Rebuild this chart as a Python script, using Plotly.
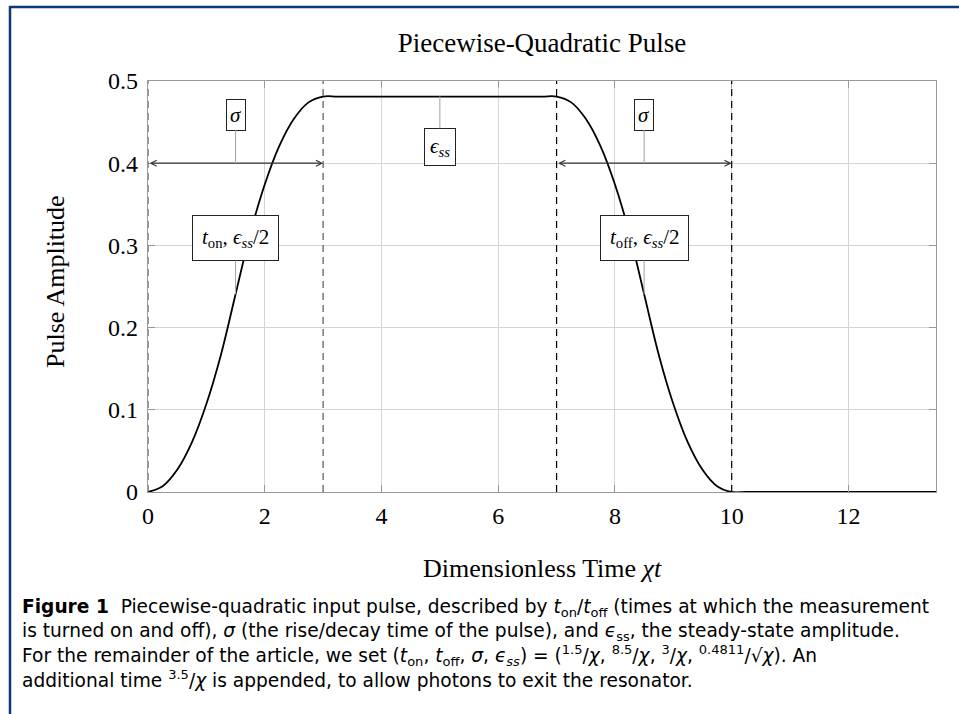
import plotly.graph_objects as go

# pulse amplitude, time in units of 1/chi
time = [0, 0.25, 0.5, 0.75, 1.0, 1.25, 1.5, 1.75, 2.0, 2.25, 2.5, 2.75, 3.0,
        3.25, 4.0, 5.0, 6.0, 6.75, 7.0,
        7.25, 7.5, 7.75, 8.0, 8.25, 8.5, 8.75, 9.0, 9.25, 9.5, 9.75, 10.0,
        10.25, 11.0, 12.0, 13.5]
amplitude = [0, 0.007, 0.027, 0.060, 0.107, 0.167, 0.2405, 0.314, 0.374, 0.421, 0.454, 0.474, 0.4811,
             0.4811, 0.4811, 0.4811, 0.4811, 0.4811, 0.4811,
             0.474, 0.454, 0.421, 0.374, 0.314, 0.2405, 0.167, 0.107, 0.060, 0.027, 0.007, 0,
             0, 0, 0, 0]

t_on, t_off, sigma, eps_ss = 1.5, 8.5, 3.0, 0.4811
edges = [t_on - sigma / 2, t_on + sigma / 2, t_off - sigma / 2, t_off + sigma / 2]
edge_colors = ["#555555", "#555555", "black", "black"]
arrow_level = 0.4

x_ticks = [0, 2, 4, 6, 8, 10, 12]
y_ticks = [0, 0.1, 0.2, 0.3, 0.4, 0.5]
y_tick_text = ["0", "0.1", "0.2", "0.3", "0.4", "0.5"]

caption = [
    "<b>Figure 1</b>  Piecewise-quadratic input pulse, described by <i>t</i><sub>on</sub>/<i>t</i><sub>off</sub>"
    " (times at which the measurement",
    "is turned on and off), <i>σ</i> (the rise/decay time of the pulse), and <i>ϵ</i><sub>ss</sub>,"
    " the steady-state amplitude.",
    "For the remainder of the article, we set (<i>t</i><sub>on</sub>, <i>t</i><sub>off</sub>, <i>σ</i>,"
    " <i>ϵ<sub>ss</sub></i>) = (<sup>1.5</sup>/<i>χ</i>, <sup>8.5</sup>/<i>χ</i>, <sup>3</sup>/<i>χ</i>,"
    " <sup>0.4811</sup>/√<i>χ</i>). An",
    "additional time <sup>3.5</sup>/<i>χ</i> is appended, to allow photons to exit the resonator.",
]

W, H = 959, 714
L, R, T, B = 148, 23, 81, 222
PW, PH = W - L - R, H - T - B


def px(x):
    return (x - L) / PW


def py(y):
    return (H - B - y) / PH


SERIF = "Liberation Serif, Times New Roman, serif"
SANS = "DejaVu Sans, sans-serif"

fig = go.Figure()

for xe, c in zip(edges, edge_colors):
    fig.add_vline(x=xe, line=dict(color=c, width=1.2, dash="7px,5px"), layer="above")

fig.add_trace(go.Scatter(
    x=time, y=amplitude, mode="lines",
    line=dict(color="black", width=1.8, shape="spline", smoothing=1.0),
    showlegend=False, hoverinfo="skip",
))

# double arrows spanning the rise and decay
for a, b in [(edges[0], edges[1]), (edges[2], edges[3])]:
    fig.add_annotation(x=b, y=arrow_level, ax=a, ay=arrow_level, xref="x", yref="y",
                       axref="x", ayref="y", text="", showarrow=True, arrowside="end+start",
                       arrowhead=5, arrowsize=0.9, arrowwidth=1.3, arrowcolor="#333",
                       standoff=0, startstandoff=0)


def pin_label(x, y, ly, text, pad):
    fig.add_annotation(x=x, y=y, ax=x, ay=ly, xref="x", yref="y", axref="x", ayref="y",
                       text=text, showarrow=True, arrowhead=0, arrowwidth=1.1,
                       arrowcolor="#aaaaaa", bordercolor="#222", borderwidth=1,
                       borderpad=pad, bgcolor="white",
                       font=dict(family=SERIF, size=21, color="black"))


pin_label(t_on, arrow_level, 0.459, "<i>σ</i>", 3)
pin_label(t_off, arrow_level, 0.459, "<i>σ</i>", 3)
pin_label((t_on + t_off) / 2, eps_ss, 0.42, "<i>ϵ<sub>ss</sub></i>", 5)
pin_label(t_on, eps_ss / 2, 0.309, "<i>t</i><sub>on</sub>, <i>ϵ<sub>ss</sub></i>/2", 9)
pin_label(t_off, eps_ss / 2, 0.309, "<i>t</i><sub>off</sub>, <i>ϵ<sub>ss</sub></i>/2", 9)

# axis titles
fig.add_annotation(x=0.5, y=py(568), xref="paper", yref="paper", showarrow=False,
                   xanchor="center", yanchor="middle",
                   text="Dimensionless Time <i>χt</i>", font=dict(family=SERIF, size=26, color="black"))
fig.add_annotation(x=px(55), y=py(282), xref="paper", yref="paper", showarrow=False, textangle=-90,
                   xanchor="center", yanchor="middle",
                   text="Pulse Amplitude", font=dict(family=SERIF, size=26, color="black"))

for i, line in enumerate(caption):
    fig.add_annotation(x=px(20), y=py(608 + 23.5 * i), xref="paper", yref="paper", showarrow=False,
                       xanchor="left", yanchor="middle", align="left", text=line,
                       font=dict(family=SANS, size=18.6, color="black"))

# blue frame around the figure
frame = "#0b3a75"
fig.add_shape(type="line", xref="paper", yref="paper", x0=px(9), x1=px(W), y0=py(7), y1=py(7),
              line=dict(color=frame, width=2.5))
fig.add_shape(type="line", xref="paper", yref="paper", x0=px(10), x1=px(10), y0=py(6), y1=py(H),
              line=dict(color=frame, width=2.5))

fig.update_xaxes(range=[0, 13.5], tickvals=x_ticks, showgrid=True, gridcolor="#d4d4d4", gridwidth=1,
                 showline=True, linecolor="#999", linewidth=1.2, mirror="allticks",
                 ticks="inside", ticklen=7, tickcolor="#999", zeroline=False,
                 tickfont=dict(family=SERIF, size=24, color="black"), ticklabelstandoff=2)
fig.update_yaxes(range=[0, 0.5], tickvals=y_ticks, ticktext=y_tick_text, showgrid=True,
                 gridcolor="#d4d4d4", gridwidth=1, showline=True, linecolor="#999", linewidth=1.2,
                 mirror="allticks", ticks="inside", ticklen=7, tickcolor="#999", zeroline=False,
                 tickfont=dict(family=SERIF, size=24, color="black"), ticklabelstandoff=4)

fig.update_layout(
    width=W, height=H,
    margin=dict(l=L, r=R, t=T, b=B),
    paper_bgcolor="white", plot_bgcolor="white",
    title=dict(text="Piecewise-Quadratic Pulse", x=(L + PW / 2) / W, xanchor="center",
               y=1 - 43 / H, yanchor="middle", font=dict(family=SERIF, size=27, color="black")),
    showlegend=False,
)

# drop the default page margin so the figure sits at the window's corner
fig.write_html("out.html", config={"displayModeBar": False},
               post_script="document.body.style.margin='0';")
